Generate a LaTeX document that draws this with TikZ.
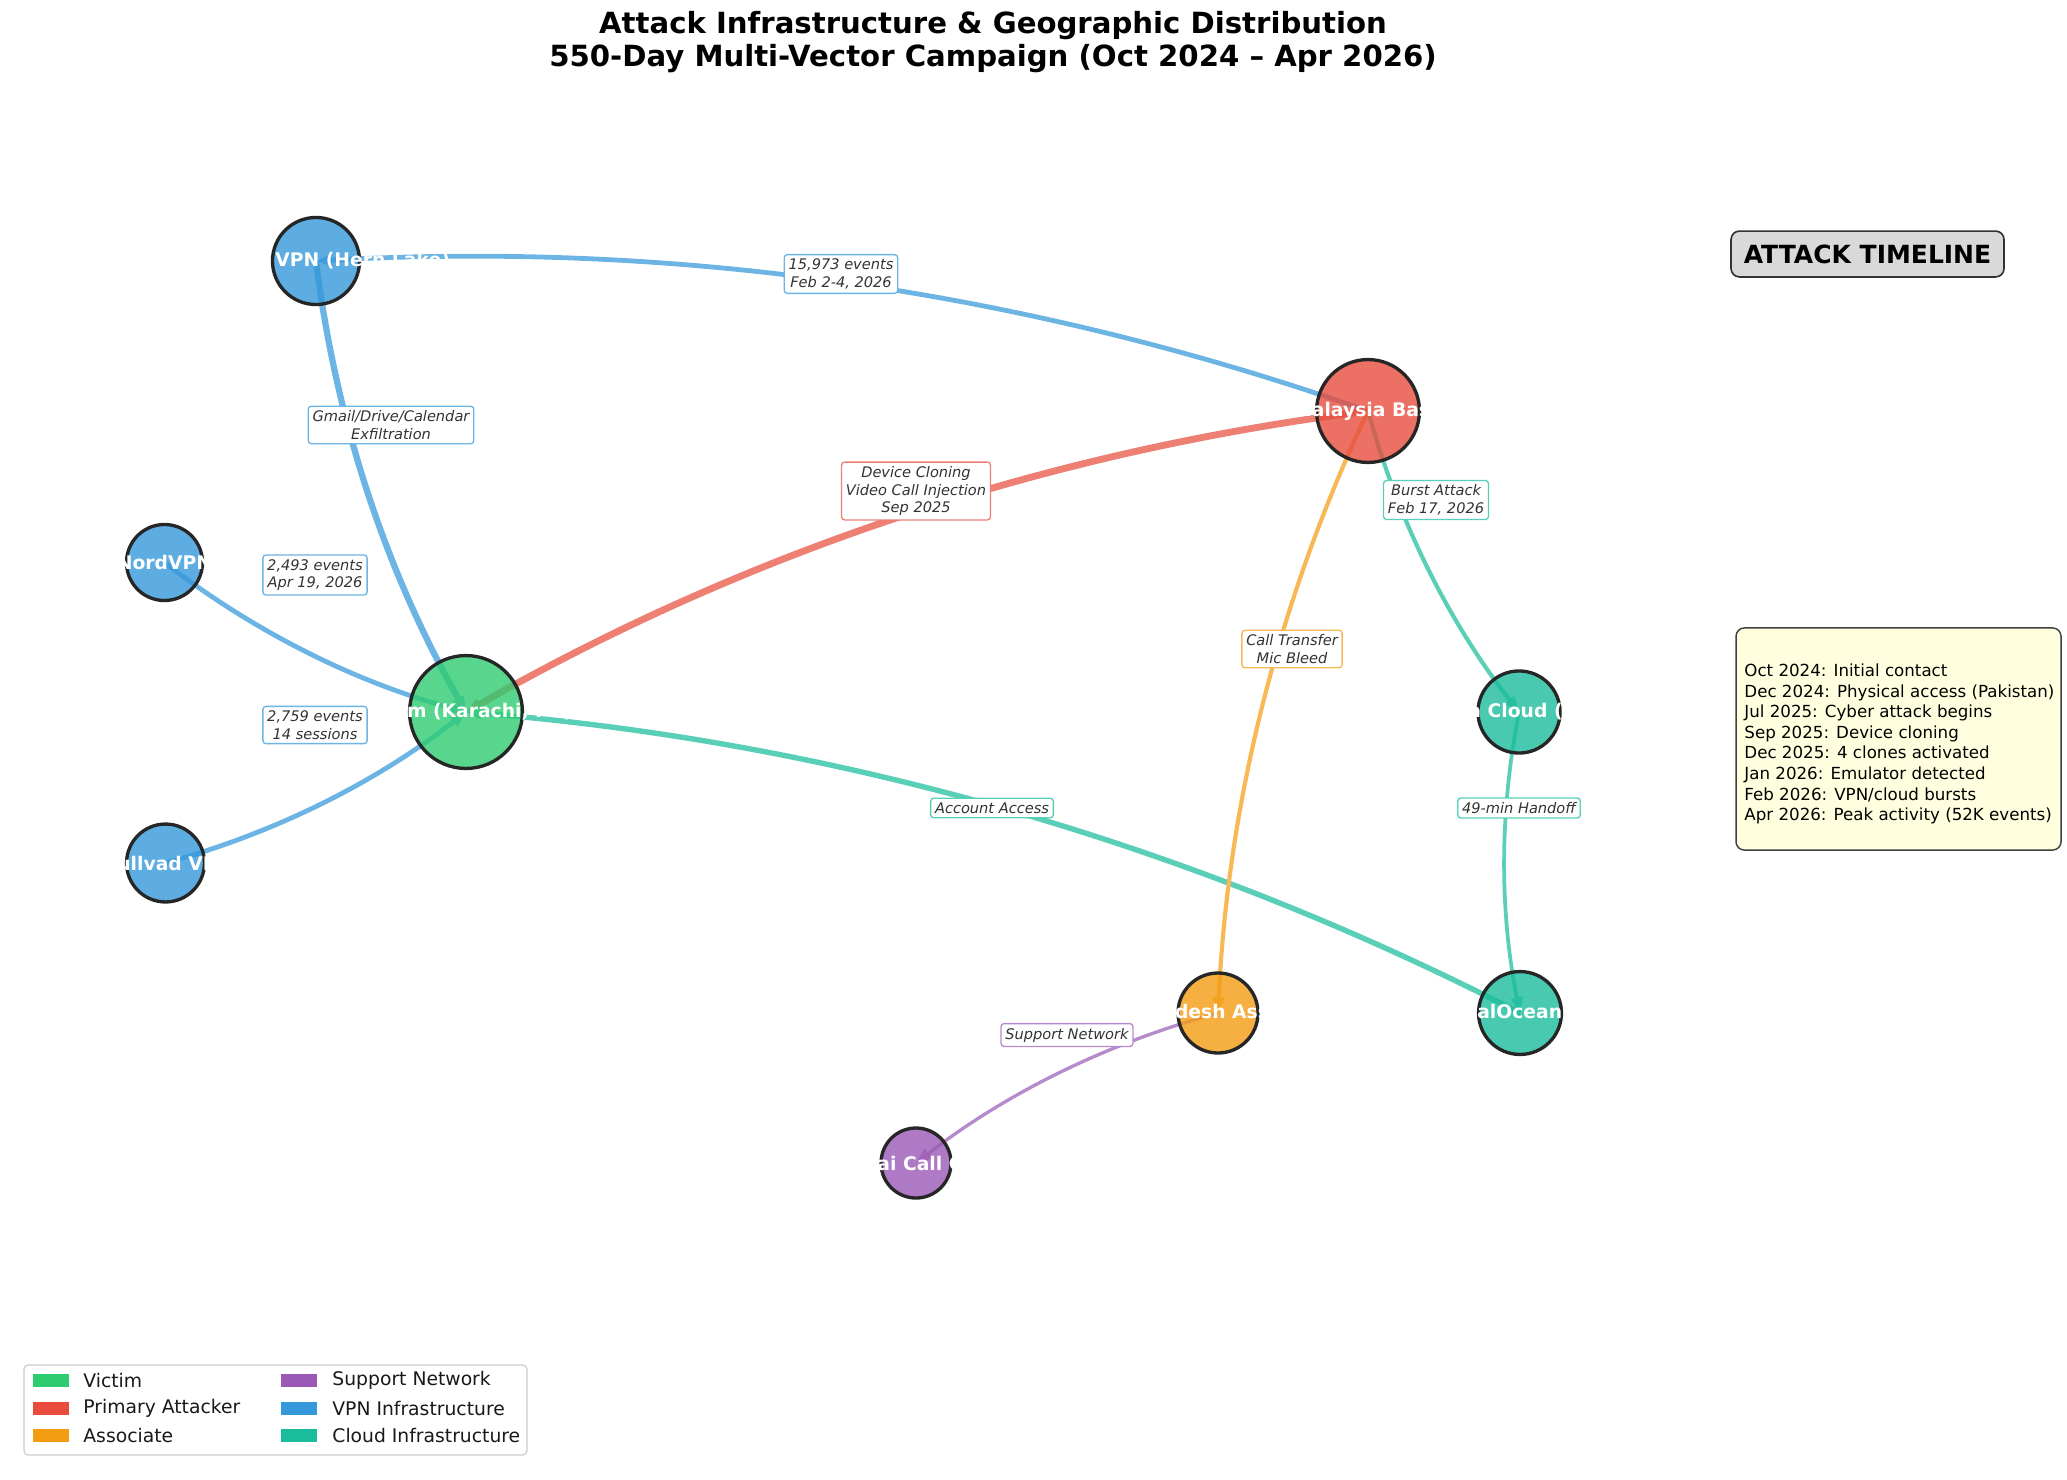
\documentclass[tikz,border=0pt]{standalone}
\usepackage{fontspec}
\setmainfont{DejaVu Sans}[ItalicFont={DejaVu Sans Oblique},BoldFont={DejaVu Sans Bold},BoldItalicFont={DejaVu Sans Bold Oblique}]
\usetikzlibrary{arrows.meta}
\definecolor{cVic}{HTML}{2ECC71}
\definecolor{cAtk}{HTML}{E74C3C}
\definecolor{cAss}{HTML}{F39C12}
\definecolor{cSup}{HTML}{9B59B6}
\definecolor{cVpn}{HTML}{3498DB}
\definecolor{cCld}{HTML}{1ABC9C}
\definecolor{eVpn}{HTML}{6CB4E4}
\definecolor{eAtk}{HTML}{EE7F73}
\definecolor{eCld}{HTML}{5ACFB8}
\definecolor{eAss}{HTML}{F6B955}
\definecolor{eSup}{HTML}{B78ACB}
\definecolor{txt}{HTML}{333333}
\definecolor{tlfill}{HTML}{FFFFE0}
\definecolor{hdrfill}{HTML}{D9D9D9}
\pgfdeclarelayer{edgelayer}
\pgfsetlayers{edgelayer,main}
\tikzset{
  netnode/.style={circle, draw=black!85, line width=1.6pt, fill opacity=0.8, draw opacity=1, inner sep=0pt, minimum size=#1},
  nlabel/.style={text=white, font=\fontsize{9}{10.8}\selectfont\bfseries, inner sep=0pt},
  edgeln/.style={line width=#1, -{Triangle[length=7.5pt,width=5.5pt]}, bend right=11.31, looseness=0.868},
  elabel/.style={draw=#1, line width=0.65pt, fill=white, rounded corners=1.5pt, text=txt,
    font=\fontsize{7}{8.4}\selectfont\itshape, align=center, inner sep=2.1pt},
  legpatch/.style={inner sep=0pt, minimum width=17.3pt, minimum height=6.2pt, draw=none},
  legtext/.style={anchor=west, inner sep=0pt, font=\fontsize{9}{10.8}\selectfont, text=black!90},
}
\begin{document}
\begin{tikzpicture}[x=0.48pt, y=-0.48pt]
\useasboundingbox (0,0) rectangle (2067,1479);

% title
\node[font=\fontsize{14}{15.8}\selectfont\bfseries, align=center] (title) at (993,42.5)
  {Attack Infrastructure \& Geographic Distribution\\550-Day Multi-Vector Campaign (Oct 2024 – Apr 2026)};

% nodes
\node[netnode=54.2pt, fill=cVic] (vic) at (466,712) {};
\node[netnode=49.4pt, fill=cAtk] (mal) at (1368,411) {};
\node[netnode=41.8pt, fill=cVpn] (hern) at (316,261) {};
\node[netnode=36.5pt, fill=cVpn] (nord) at (164.5,562.5) {};
\node[netnode=37.4pt, fill=cVpn] (mull) at (165.5,863) {};
\node[netnode=39.4pt, fill=cCld] (cld) at (1519,712) {};
\node[netnode=38.4pt, fill=cAss] (ban) at (1218,1013) {};
\node[netnode=39.8pt, fill=cCld] (dig) at (1520,1013) {};
\node[netnode=33.6pt, fill=cSup] (mum) at (916,1163) {};

% edges
\begin{pgfonlayer}{edgelayer}
\draw[edgeln=2.3pt, eVpn] (mal.center) to (hern.center);
\draw[edgeln=3.0pt, eVpn] (hern.center) to (vic.center);
\draw[edgeln=3.3pt, eAtk] (mal.center) to (vic.center);
\draw[edgeln=2.3pt, eVpn] (nord.center) to (vic.center);
\draw[edgeln=2.3pt, eVpn] (mull.center) to (vic.center);
\draw[edgeln=2.6pt, eCld] (dig.center) to (vic.center);
\draw[edgeln=2.0pt, eCld] (mal.center) to (cld.center);
\draw[edgeln=1.8pt, eCld] (cld.center) to (dig.center);
\draw[edgeln=2.0pt, eAss] (mal.center) to (ban.center);
\draw[edgeln=1.6pt, eSup] (ban.center) to (mum.center);
\end{pgfonlayer}

% node labels
\node[nlabel] (vicL) at (vic) {Victim (Karachi, PK)};
\node[nlabel] (malL) at (mal) {Malaysia Base};
\node[nlabel, anchor=west] (hernL) at (275,261) {VPN (Hern Lake)};
\node[nlabel] (nordL) at (nord) {NordVPN};
\node[nlabel] (mullL) at (mull) {Mullvad VPN};
\node[nlabel, anchor=west] (cldL) at (1468,712) {a Cloud (};
\node[nlabel] (banL) at (ban) {Bangladesh Associate};
\node[nlabel, anchor=west] (digL) at (1426,1013) {DigitalOcean};
\node[nlabel] (mumL) at (mum) {Mumbai Call Center};

% edge labels
\node[elabel=eVpn] (l1) at (841,274) {15,973 events\\Feb 2-4, 2026};
\node[elabel=eVpn] (l2) at (391,425) {Gmail/Drive/Calendar\\Exfiltration};
\node[elabel=eAtk] (l3) at (916,491) {Device Cloning\\Video Call Injection\\Sep 2025};
\node[elabel=eVpn] (l4) at (315,575) {2,493 events\\Apr 19, 2026};
\node[elabel=eVpn] (l5) at (315,725) {2,759 events\\14 sessions};
\node[elabel=eCld] (l6) at (1436,500) {Burst Attack\\Feb 17, 2026};
\node[elabel=eAss] (l7) at (1292,649) {Call Transfer\\Mic Bleed};
\node[elabel=eCld] (l8) at (992,808) {Account Access};
\node[elabel=eCld] (l9) at (1519,808) {49-min Handoff};
\node[elabel=eSup] (l10) at (1067,1035) {Support Network};

% timeline
\node[draw=black!80, line width=0.8pt, fill=hdrfill, rounded corners=4pt, minimum width=131pt, minimum height=22pt,
  font=\fontsize{12}{14}\selectfont\bfseries] (tlhead) at (1867.5,254) {ATTACK TIMELINE};
\node[draw=black!75, line width=0.7pt, fill=tlfill, rounded corners=4pt, minimum width=156pt, minimum height=106.6pt] (tlbox) at (1898.5,739) {};
\node[anchor=west, align=left, inner sep=0pt, font=\fontsize{8}{9.9}\selectfont] (tltext) at (1744,744)
  {Oct 2024: Initial contact\\Dec 2024: Physical access (Pakistan)\\Jul 2025: Cyber attack begins\\Sep 2025: Device cloning\\Dec 2025: 4 clones activated\\Jan 2026: Emulator detected\\Feb 2026: VPN/cloud bursts\\Apr 2026: Peak activity (52K events)};

% legend
\node[draw=black!20, line width=0.6pt, rounded corners=2pt, fill=white, minimum width=241.4pt, minimum height=43.2pt] (leg) at (275.5,1410) {};
\node[legpatch, fill=cVic] (lp1) at (51,1380.5) {};
\node[legtext] (lt1) at (83,1380.5) {Victim};
\node[legpatch, fill=cAtk] (lp2) at (51,1408.3) {};
\node[legtext] (lt2) at (83,1408.3) {Primary Attacker};
\node[legpatch, fill=cAss] (lp3) at (51,1435.9) {};
\node[legtext] (lt3) at (83,1435.9) {Associate};
\node[legpatch, fill=cSup] (lp4) at (299,1380.5) {};
\node[legtext] (lt4) at (332,1380.5) {Support Network};
\node[legpatch, fill=cVpn] (lp5) at (299,1408.3) {};
\node[legtext] (lt5) at (332,1408.3) {VPN Infrastructure};
\node[legpatch, fill=cCld] (lp6) at (299,1435.9) {};
\node[legtext] (lt6) at (332,1435.9) {Cloud Infrastructure};
\end{tikzpicture}
\end{document}
